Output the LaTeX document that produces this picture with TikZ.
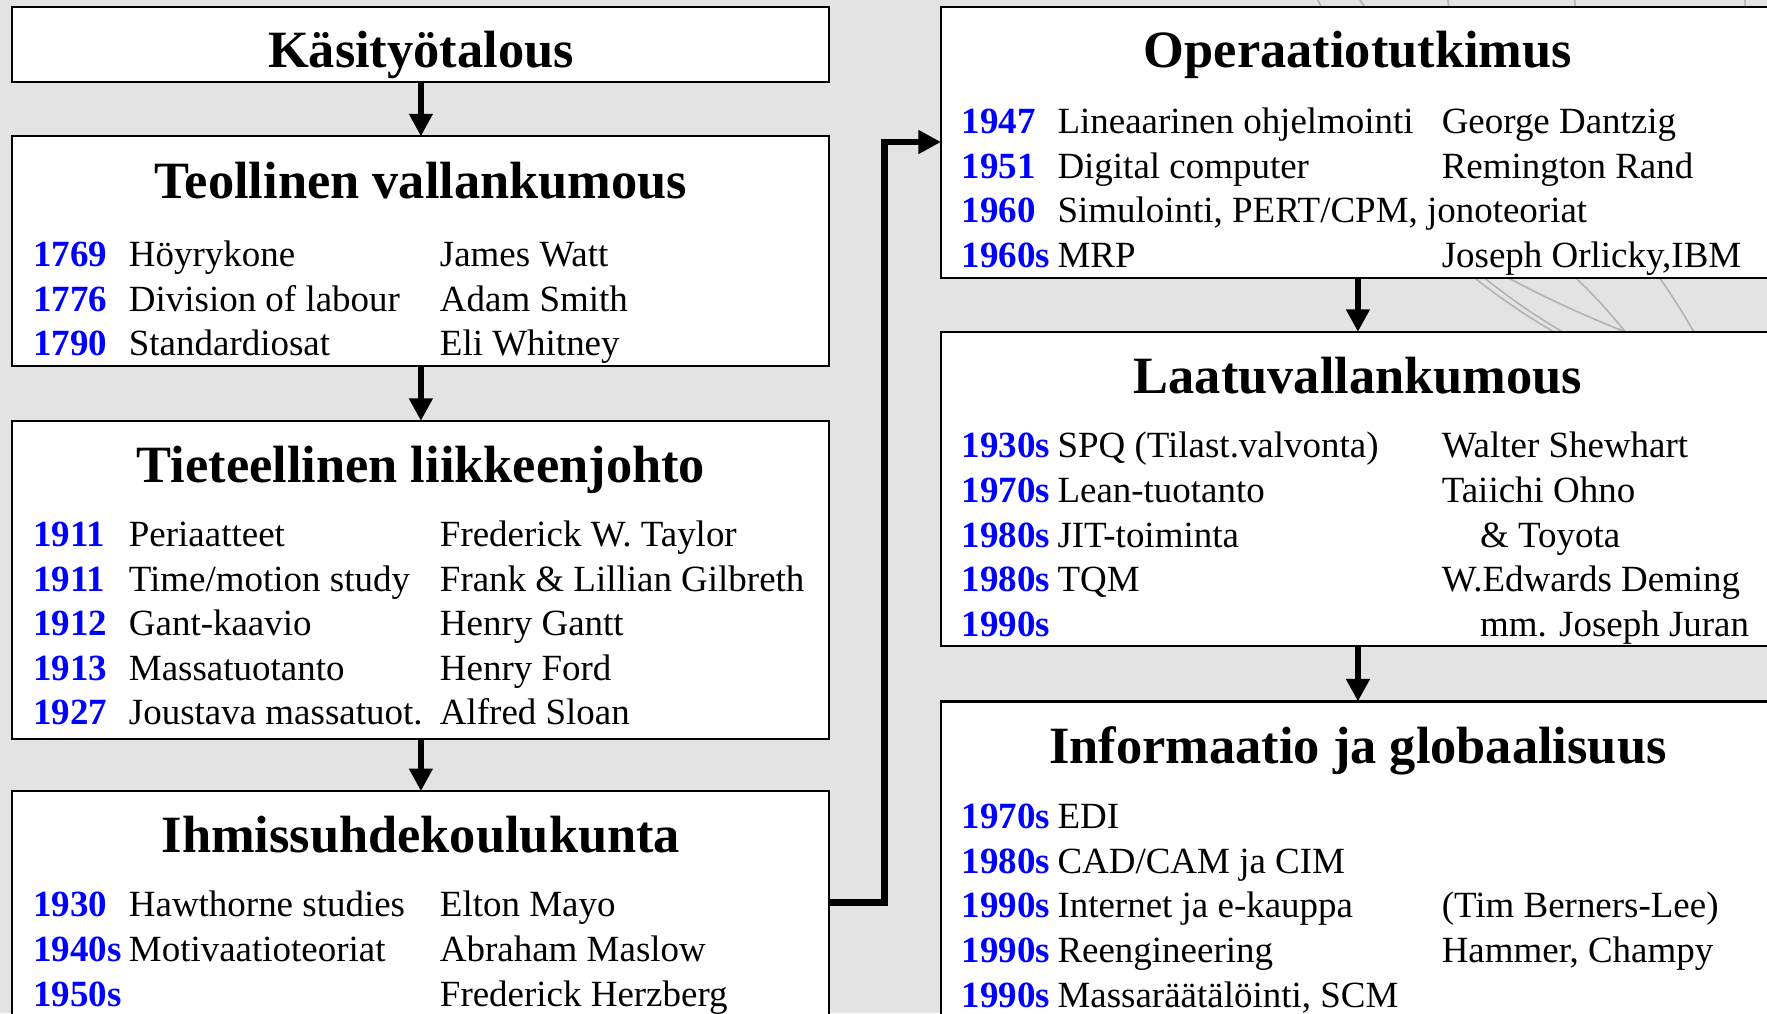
\documentclass[tikz,border=0pt]{standalone}
\usepackage{fontspec}
\setmainfont{Liberation Serif}
\usetikzlibrary{arrows.meta}
\definecolor{bg}{RGB}{227,227,227}
\definecolor{yrblue}{RGB}{0,0,255}
\begin{document}
\begin{tikzpicture}[x=0.5pt,y=-0.5pt,
  box/.style={draw=black, line width=0.9pt, fill=white, anchor=north west, inner sep=0pt, outer sep=0pt},
  ttl/.style={anchor=base, inner sep=0pt, yshift=-0.75pt, font=\fontsize{23.25}{28}\selectfont\bfseries},
  yr/.style={anchor=base west, inner sep=0pt, yshift=-0.9pt, text=yrblue, font=\fontsize{16.4}{20}\selectfont\bfseries},
  tx/.style={anchor=base west, inner sep=0pt, yshift=-0.9pt, font=\fontsize{16.4}{20}\selectfont},
  arr/.style={line width=3pt, line join=miter, -{Triangle[length=10pt,width=10pt]}},
  faint/.style={draw=black!30, line width=0.7pt}]
\useasboundingbox (0,0) rectangle (1568,899);
\clip (0,0) rectangle (1568,899);
\fill[bg] (0,0) rectangle (1568,899);

% faint background arcs
\draw[faint] (1283,226) to[bend right=6] (1418,316);
\draw[faint] (1292,226) to[bend right=6] (1425,316);
\draw[faint] (1290,220) to[bend right=5] (1500,316);
\draw[faint] (1371,222) to[bend left=6] (1459,316);
\draw[faint] (1455,222) to[bend left=4] (1515,316);
\draw[faint] (1165,-10) -- (1175,12);
\draw[faint] (1200,-10) -- (1215,12);
\draw[faint] (1284,-10) -- (1286,12);
\draw[faint] (1397,-10) -- (1398,12);
\draw[faint] (1548,-10) -- (1549,12);

% boxes
\node[box, minimum width=362.5pt, minimum height=33.5pt] (b1) at (11,6) {};
\node[box, minimum width=362.5pt, minimum height=102pt] (b2) at (11,121) {};
\node[box, minimum width=362.5pt, minimum height=141pt] (b3) at (11,373.5) {};
\node[box, minimum width=362.5pt, minimum height=119pt] (b4) at (11,702) {};
\node[box, minimum width=370pt, minimum height=120.5pt] (b5) at (835,6) {};
\node[box, minimum width=370pt, minimum height=139.5pt] (b6) at (835,294.5) {};
\node[box, minimum width=370pt, minimum height=158.75pt] (b7) at (835,622.5) {};

% arrows
\draw[arr] (b1.south) -- (b2.north);
\draw[arr] (b2.south) -- (b3.north);
\draw[arr] (b3.south) -- (b4.north);
\draw[arr] (b5.south) -- (b6.north);
\draw[arr] (b6.south) -- (b7.north);
\coordinate (cy1) at (0,801);
\coordinate (cy2) at (0,126);
\draw[arr] (b4.east |- cy1) -- ++(49,0) |- (b5.west |- cy2);

% titles
\node[ttl] (t1) at (373.5,58) {Käsityötalous};
\node[ttl] (t2) at (373.5,174.5) {Teollinen vallankumous};
\node[ttl] (t3) at (373.5,426.5) {Tieteellinen liikkeenjohto};
\node[ttl] (t4) at (373.5,755) {Ihmissuhdekoulukunta};
\node[ttl] (t5) at (1205,58) {Operaatiotutkimus};
\node[ttl] (t6) at (1205,347.5) {Laatuvallankumous};
\node[ttl] (t7) at (1205,676) {Informaatio ja globaalisuus};

% Teollinen vallankumous
\node[yr] (a1y) at (29,235) {1769};
\node[tx] (a1d) at (114,235) {Höyrykone};
\node[tx] (a1p) at (390,235) {James Watt};
\node[yr] (a2y) at (29,274.5) {1776};
\node[tx] (a2d) at (114,274.5) {Division of labour};
\node[tx] (a2p) at (390,274.5) {Adam Smith};
\node[yr] (a3y) at (29,314) {1790};
\node[tx] (a3d) at (114,314) {Standardiosat};
\node[tx] (a3p) at (390,314) {Eli Whitney};

% Tieteellinen liikkeenjohto
\node[yr] (c1y) at (29,483.5) {1911};
\node[tx] (c1d) at (114,483.5) {Periaatteet};
\node[tx] (c1p) at (390,483.5) {Frederick W. Taylor};
\node[yr] (c2y) at (29,523) {1911};
\node[tx] (c2d) at (114,523) {Time/motion study};
\node[tx] (c2p) at (390,523) {Frank \& Lillian Gilbreth};
\node[yr] (c3y) at (29,562.5) {1912};
\node[tx] (c3d) at (114,562.5) {Gant-kaavio};
\node[tx] (c3p) at (390,562.5) {Henry Gantt};
\node[yr] (c4y) at (29,602) {1913};
\node[tx] (c4d) at (114,602) {Massatuotanto};
\node[tx] (c4p) at (390,602) {Henry Ford};
\node[yr] (c5y) at (29,641.5) {1927};
\node[tx] (c5d) at (114,641.5) {Joustava massatuot.};
\node[tx] (c5p) at (390,641.5) {Alfred Sloan};

% Ihmissuhdekoulukunta
\node[yr] (d1y) at (29,811.5) {1930};
\node[tx] (d1d) at (114,811.5) {Hawthorne studies};
\node[tx] (d1p) at (390,811.5) {Elton Mayo};
\node[yr] (d2y) at (29,851) {1940s};
\node[tx] (d2d) at (114,851) {Motivaatioteoriat};
\node[tx] (d2p) at (390,851) {Abraham Maslow};
\node[yr] (d3y) at (29,891) {1950s};
\node[tx] (d3p) at (390,891) {Frederick Herzberg};

% Operaatiotutkimus
\node[yr] (e1y) at (853,117) {1947};
\node[tx] (e1d) at (938,117) {Lineaarinen ohjelmointi};
\node[tx] (e1p) at (1279,117) {George Dantzig};
\node[yr] (e2y) at (853,156.5) {1951};
\node[tx] (e2d) at (938,156.5) {Digital computer};
\node[tx] (e2p) at (1279,156.5) {Remington Rand};
\node[yr] (e3y) at (853,196) {1960};
\node[tx] (e3d) at (938,196) {Simulointi, PERT/CPM, jonoteoriat};
\node[yr] (e4y) at (853,235.5) {1960s};
\node[tx] (e4d) at (938,235.5) {MRP};
\node[tx] (e4p) at (1279,235.5) {Joseph Orlicky,IBM};

% Laatuvallankumous
\node[yr] (f1y) at (853,404.5) {1930s};
\node[tx] (f1d) at (938,404.5) {SPQ (Tilast.valvonta)};
\node[tx] (f1p) at (1279,404.5) {Walter Shewhart};
\node[yr] (f2y) at (853,444) {1970s};
\node[tx] (f2d) at (938,444) {Lean-tuotanto};
\node[tx] (f2p) at (1279,444) {Taiichi Ohno};
\node[yr] (f3y) at (853,484) {1980s};
\node[tx] (f3d) at (938,484) {JIT-toiminta};
\node[tx] (f3p) at (1313,484) {\& Toyota};
\node[yr] (f4y) at (853,523.5) {1980s};
\node[tx] (f4d) at (938,523.5) {TQM};
\node[tx] (f4p) at (1279,523.5) {W.Edwards Deming};
\node[yr] (f5y) at (853,563) {1990s};
\node[tx] (f5p) at (1313,563) {mm. Joseph Juran};

% Informaatio ja globaalisuus
\node[yr] (g1y) at (853,733) {1970s};
\node[tx] (g1d) at (938,733) {EDI};
\node[yr] (g2y) at (853,773) {1980s};
\node[tx] (g2d) at (938,773) {CAD/CAM ja CIM};
\node[yr] (g3y) at (853,812.5) {1990s};
\node[tx] (g3d) at (938,812.5) {Internet ja e-kauppa};
\node[tx] (g3p) at (1279,812.5) {(Tim Berners-Lee)};
\node[yr] (g4y) at (853,852.5) {1990s};
\node[tx] (g4d) at (938,852.5) {Reengineering};
\node[tx] (g4p) at (1279,852.5) {Hammer, Champy};
\node[yr] (g5y) at (853,892) {1990s};
\node[tx] (g5d) at (938,892) {Massaräätälöinti, SCM};
\end{tikzpicture}
\end{document}
